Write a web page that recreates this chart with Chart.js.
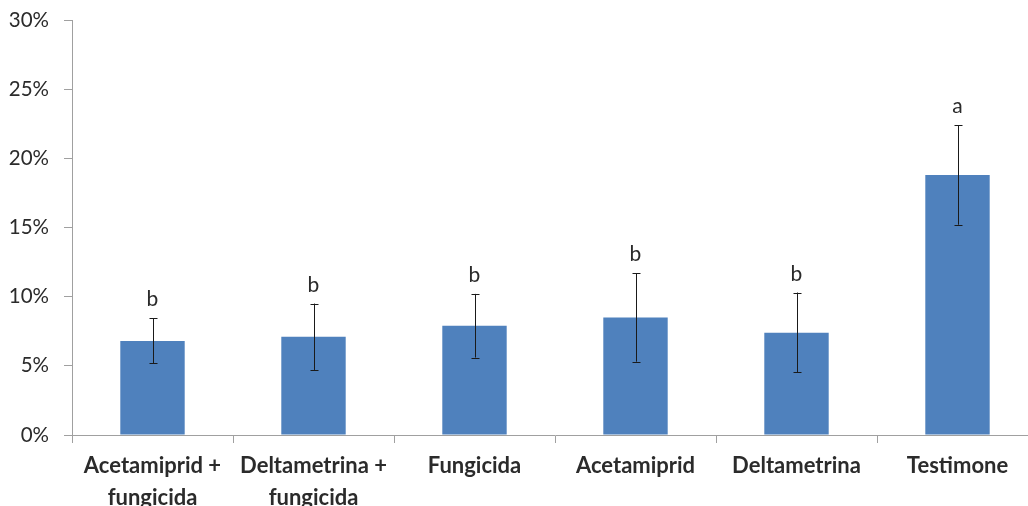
<!DOCTYPE html>
<html>
<head>
<meta charset="utf-8">
<script src="https://cdn.jsdelivr.net/npm/chart.js@4.4.0/dist/chart.umd.min.js"></script>
<style>
  html, body { margin: 0; padding: 0; background: #fff; overflow: hidden; }
  #wrap { position: absolute; left: 0; top: 0; width: 1045px; height: 506px; }
</style>
</head>
<body>
<div id="wrap"><canvas id="c"></canvas></div>
<script>
// ---- data ----
const categories = [
  ["Acetamiprid +", "fungicida"],
  ["Deltametrina +", "fungicida"],
  "Fungicida",
  "Acetamiprid",
  "Deltametrina",
  "Testimone"
];
const means    = [6.8, 7.1, 7.9, 8.5, 7.4, 18.8];   // %
const errUp    = [1.65, 2.4, 2.3, 3.2, 2.9, 3.6];    // %
const errDown  = [1.6, 2.4, 2.3, 3.2, 2.85, 3.6];    // %
const letters  = ["b", "b", "b", "b", "b", "a"];
const yTicks   = [0, 5, 10, 15, 20, 25, 30];

const FONT = "Lato, 'Open Sans', 'DejaVu Sans', sans-serif";
const TEXT = "#2b2b2b";
const AXIS = "#a0a0a0";

const errorBarPlugin = {
  id: 'errorBars',
  afterDatasetsDraw(chart) {
    const ctx = chart.ctx;
    const meta = chart.getDatasetMeta(0);
    const y = chart.scales.y;
    ctx.save();
    meta.data.forEach((bar, i) => {
      const x = Math.round(bar.x) + 0.5;
      const yTop = y.getPixelForValue(means[i] + errUp[i]);
      const yBot = y.getPixelForValue(means[i] - errDown[i]);
      ctx.strokeStyle = "#1a1a1a";
      ctx.lineWidth = 1;
      ctx.beginPath();
      ctx.moveTo(x, yTop); ctx.lineTo(x, yBot);
      ctx.moveTo(x - 4, Math.round(yTop) + 0.5); ctx.lineTo(x + 4, Math.round(yTop) + 0.5);
      ctx.moveTo(x - 4, Math.round(yBot) + 0.5); ctx.lineTo(x + 4, Math.round(yBot) + 0.5);
      ctx.stroke();
      ctx.fillStyle = TEXT;
      ctx.font = "21px " + FONT;
      ctx.textAlign = "center";
      ctx.textBaseline = "alphabetic";
      ctx.fillText(letters[i], bar.x, yTop - 12);
    });
    ctx.restore();
  }
};

new Chart(document.getElementById('c'), {
  type: 'bar',
  data: {
    labels: categories,
    datasets: [{
      data: means,
      backgroundColor: "#4f81bd",
      borderWidth: 0,
      categoryPercentage: 1.0,
      barPercentage: 0.4
    }]
  },
  options: {
    responsive: true,
    maintainAspectRatio: false,
    animation: false,
    layout: { padding: { left: 0, right: 7, top: 20, bottom: 0 } },
    plugins: { legend: { display: false }, tooltip: { enabled: false } },
    scales: {
      x: {
        grid: { display: true, drawOnChartArea: false, drawTicks: true, tickLength: 8, color: AXIS, offset: true },
        border: { display: true, color: AXIS, width: 1 },
        ticks: {
          color: TEXT,
          font: { family: FONT, size: 22, weight: 'bold', lineHeight: 1.45 },
          padding: 7,
          maxRotation: 0, autoSkip: false
        },
        afterFit(s) { s.height = 71; s.paddingLeft = 0; s.paddingRight = 0; }
      },
      y: {
        min: 0, max: 30,
        afterBuildTicks(s) { s.ticks = yTicks.map(v => ({ value: v })); },
        grid: { display: true, drawOnChartArea: false, drawTicks: true, tickLength: 8, color: AXIS },
        border: { display: true, color: AXIS, width: 1 },
        ticks: {
          color: TEXT,
          font: { family: FONT, size: 20.5 },
          padding: 15,
          callback: v => v + "%"
        },
        afterFit(s) { s.width = 72; s.paddingTop = 0; s.paddingBottom = 0; }
      }
    }
  },
  plugins: [errorBarPlugin]
});
</script>
</body>
</html>
